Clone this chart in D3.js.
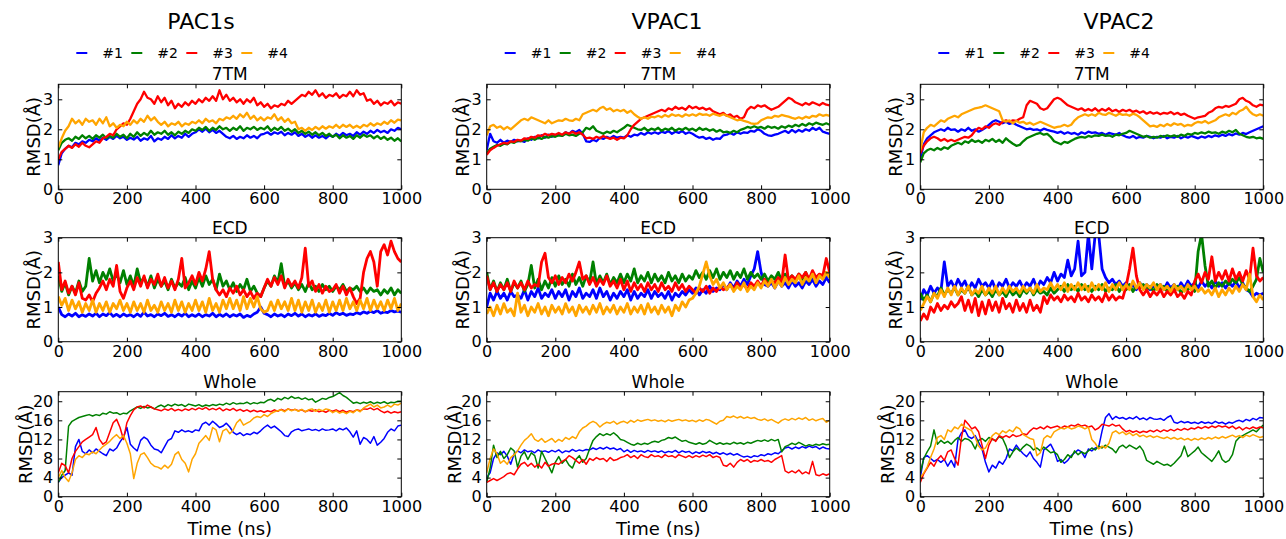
<!DOCTYPE html>
<html>
<head>
<meta charset="utf-8">
<script src="https://cdn.jsdelivr.net/npm/d3@7"></script>
<style>
  body { margin: 0; background: #fff; }
  svg { font-family: "DejaVu Sans", sans-serif; }
</style>
</head>
<body>
<div id="chart"></div>
<script>
var svgWidth = 1286;
var svgHeight = 539;

// labels
var receptors = ["PAC1s", "VPAC1", "VPAC2"];
var regions = ["7TM", "ECD", "Whole"];
var seriesNames = ["#1", "#2", "#3", "#4"];
var seriesColors = ["#0000ff", "#008000", "#ff0000", "#ffa500"];
var xTicks = [0, 200, 400, 600, 800, 1000];
var yTicks7tm = [0, 1, 2, 3];
var yTicksEcd = [0, 1, 2, 3];
var yTicksWhole = [0, 4, 8, 12, 16, 20];

// RMSD (A), one value every 10 ns from 0 to 1000 ns
var pac1s7tm1 = [0.8,1.2,1.35,1.45,1.4,1.55,1.5,1.6,1.55,1.65, 1.6,1.7,1.62,1.72,1.65,1.75,1.68,1.78,1.7,1.75, 1.65,1.72,1.66,1.75,1.62,1.7,1.65,1.78,1.6,1.7, 1.65,1.75,1.68,1.8,1.7,1.78,1.72,1.85,1.75,1.85, 1.9,2.0,1.92,2.02,1.9,1.98,1.88,1.95,1.85,1.75, 1.7,1.78,1.68,1.75,1.7,1.8,1.72,1.78,1.7,1.82, 1.85,1.9,1.82,1.9,1.85,1.92,1.8,1.88,1.82,1.9, 1.78,1.85,1.75,1.82,1.72,1.8,1.72,1.78,1.7,1.8, 1.75,1.85,1.78,1.88,1.8,1.85,1.78,1.9,1.82,1.92, 1.85,1.95,1.88,1.98,1.9,1.95,1.88,2.0,1.95,2.05, 2.0];
var pac1s7tm2 = [1.3,1.55,1.65,1.7,1.62,1.75,1.68,1.8,1.7,1.78, 1.68,1.8,1.72,1.82,1.7,1.78,1.72,1.85,1.75,1.82, 1.7,1.85,1.75,1.9,1.78,1.88,1.8,1.95,1.82,1.9, 1.85,1.95,1.82,1.9,1.8,1.92,1.85,1.95,1.88,2.0, 1.95,2.05,1.98,2.08,1.95,2.05,1.98,2.1,2.0,2.05, 1.95,2.05,1.98,2.1,1.95,2.05,2.0,2.08,1.98,2.05, 2.0,2.1,1.95,2.05,1.98,2.08,1.95,2.02,1.92,2.0, 1.88,1.95,1.85,1.92,1.82,1.9,1.8,1.88,1.78,1.85, 1.75,1.82,1.7,1.8,1.72,1.78,1.68,1.8,1.72,1.82, 1.75,1.8,1.7,1.78,1.68,1.75,1.65,1.72,1.62,1.7, 1.6];
var pac1s7tm3 = [1.0,1.25,1.35,1.45,1.38,1.5,1.42,1.55,1.45,1.4, 1.5,1.6,1.55,1.7,1.75,1.85,1.8,2.0,2.1,2.2, 2.15,2.35,2.6,2.85,3.0,3.25,3.05,3.0,2.85,3.1, 2.9,3.05,2.8,2.95,2.7,2.85,2.75,2.9,2.8,2.95, 2.85,3.0,2.9,3.05,2.95,3.1,2.95,3.3,3.0,3.15, 2.95,3.05,2.9,3.0,2.85,3.0,2.9,3.05,2.8,2.9, 2.75,2.85,2.7,2.8,2.75,2.85,2.8,2.95,2.85,2.95, 3.05,3.15,3.1,3.25,3.15,3.3,3.1,3.2,3.05,3.15, 3.1,3.2,3.05,3.15,3.1,3.25,3.1,3.3,3.15,3.2, 2.95,3.0,2.85,2.95,2.8,2.9,2.85,2.95,2.8,2.9, 2.85];
var pac1s7tm4 = [1.4,1.7,1.95,2.1,2.35,2.2,2.3,2.15,2.35,2.25, 2.3,2.15,2.35,2.2,2.4,2.1,2.2,2.05,2.15,2.1, 2.25,2.15,2.3,2.2,2.35,2.25,2.45,2.3,2.4,2.25, 2.15,2.25,2.1,2.2,2.15,2.25,2.1,2.2,2.15,2.25, 2.2,2.3,2.2,2.35,2.25,2.3,2.2,2.35,2.3,2.4, 2.35,2.45,2.35,2.5,2.4,2.55,2.35,2.45,2.3,2.4, 2.3,2.4,2.35,2.5,2.3,2.4,2.25,2.35,2.2,2.25, 2.0,2.05,1.95,2.05,1.98,2.08,2.0,2.1,2.02,2.1, 2.05,2.15,2.05,2.15,2.08,2.15,2.05,2.12,2.05,2.15, 2.1,2.2,2.12,2.2,2.15,2.25,2.18,2.3,2.22,2.32, 2.3];

var vpac17tm1 = [1.3,1.85,1.6,1.55,1.65,1.55,1.62,1.58,1.65,1.6, 1.62,1.58,1.7,1.65,1.75,1.7,1.8,1.72,1.82,1.75, 1.8,1.85,1.78,1.9,1.85,1.95,1.9,1.98,1.85,1.6, 1.58,1.65,1.6,1.72,1.68,1.75,1.7,1.78,1.72,1.75, 1.72,1.8,1.75,1.82,1.8,1.88,1.82,1.9,1.85,1.9, 1.85,1.92,1.88,1.95,1.85,1.92,1.88,1.95,1.85,1.9, 1.85,1.78,1.72,1.75,1.68,1.72,1.65,1.7,1.68,1.8, 1.82,1.88,1.82,1.9,1.85,1.9,1.88,1.95,1.92,2.0, 1.95,1.85,1.8,1.78,1.82,1.85,1.9,1.95,1.88,1.98, 1.9,1.98,1.92,2.0,1.95,2.05,1.98,2.05,1.92,1.88, 1.85];
var vpac17tm2 = [1.2,1.35,1.42,1.48,1.45,1.52,1.5,1.58,1.55,1.62, 1.6,1.65,1.62,1.7,1.65,1.72,1.68,1.75,1.72,1.78, 1.75,1.8,1.78,1.85,1.8,1.82,1.78,1.85,1.9,2.05, 2.0,2.1,1.95,1.9,1.85,1.92,1.88,1.95,1.9,1.98, 2.05,2.15,2.1,2.05,2.0,1.98,2.05,1.95,2.02,1.98, 2.05,1.95,2.02,1.98,2.05,1.95,2.02,1.98,2.05,1.98, 2.02,1.95,2.05,1.98,2.02,1.95,2.0,1.92,1.98,1.9, 1.92,1.88,1.95,1.9,1.98,2.02,2.08,2.05,2.1,2.05, 2.08,2.02,2.1,2.05,2.08,2.02,2.1,2.05,2.12,2.08, 2.15,2.1,2.18,2.12,2.2,2.15,2.22,2.18,2.15,2.2, 2.15];
var vpac17tm3 = [1.15,1.3,1.38,1.45,1.5,1.55,1.52,1.6,1.58,1.65, 1.62,1.7,1.68,1.75,1.72,1.8,1.78,1.85,1.8,1.85, 1.82,1.88,1.82,1.9,1.85,1.92,1.85,1.9,1.82,1.7, 1.72,1.68,1.75,1.7,1.78,1.72,1.68,1.72,1.65,1.72, 1.7,1.8,2.0,2.15,2.25,2.35,2.4,2.45,2.5,2.55, 2.6,2.65,2.6,2.7,2.65,2.75,2.68,2.72,2.65,2.78, 2.7,2.75,2.68,2.72,2.65,2.7,2.6,2.55,2.5,2.55, 2.45,2.5,2.4,2.45,2.35,2.4,2.65,2.75,2.7,2.8, 2.75,2.8,2.72,2.65,2.7,2.75,2.85,2.95,3.05,3.0, 2.9,2.85,2.8,2.88,2.82,2.9,2.85,2.8,2.88,2.82, 2.8];
var vpac17tm4 = [1.8,2.1,2.15,2.05,2.1,2.0,2.08,2.0,2.1,2.2, 2.3,2.35,2.3,2.4,2.35,2.3,2.25,2.2,2.3,2.2, 2.25,2.3,2.28,2.35,2.3,2.28,2.35,2.3,2.5,2.55, 2.6,2.65,2.6,2.7,2.75,2.65,2.7,2.6,2.65,2.6, 2.65,2.55,2.62,2.5,2.42,2.35,2.4,2.35,2.42,2.4, 2.45,2.4,2.48,2.42,2.5,2.45,2.48,2.42,2.5,2.45, 2.5,2.45,2.52,2.48,2.5,2.45,2.52,2.48,2.45,2.5, 2.45,2.4,2.35,2.3,2.32,2.28,2.25,2.2,2.18,2.2, 2.3,2.35,2.4,2.38,2.45,2.42,2.48,2.45,2.42,2.38, 2.35,2.4,2.35,2.42,2.38,2.45,2.42,2.5,2.45,2.48, 2.45];

var vpac27tm1 = [1.0,1.5,1.7,1.8,1.9,1.95,2.0,1.95,2.05,1.98, 2.0,1.92,2.0,1.95,2.05,1.95,2.0,1.92,1.98,2.05, 2.15,2.25,2.3,2.25,2.2,2.25,2.18,2.22,2.15,2.1, 2.05,2.0,2.02,1.98,2.0,1.95,2.02,1.98,1.95,1.92, 1.88,1.92,1.85,1.9,1.85,1.88,1.82,1.9,1.85,1.92, 1.88,1.9,1.85,1.88,1.82,1.88,1.85,1.82,1.88,1.8, 1.75,1.72,1.78,1.7,1.75,1.72,1.78,1.75,1.7,1.75, 1.72,1.78,1.7,1.75,1.72,1.78,1.7,1.76,1.72,1.78, 1.74,1.7,1.76,1.72,1.78,1.74,1.8,1.76,1.82,1.78, 1.84,1.8,1.86,1.82,1.88,1.84,1.9,1.95,2.0,2.05, 2.1];
var vpac27tm2 = [0.9,1.2,1.3,1.35,1.3,1.38,1.32,1.4,1.35,1.45, 1.5,1.55,1.5,1.6,1.55,1.65,1.58,1.62,1.55,1.65, 1.6,1.68,1.58,1.65,1.55,1.7,1.6,1.52,1.45,1.48, 1.6,1.7,1.75,1.8,1.85,1.88,1.82,1.85,1.75,1.6, 1.55,1.5,1.58,1.55,1.62,1.68,1.72,1.75,1.72,1.78, 1.75,1.8,1.78,1.82,1.78,1.8,1.75,1.82,1.8,1.85, 1.88,1.95,1.9,1.85,1.8,1.75,1.78,1.72,1.75,1.72, 1.78,1.75,1.8,1.76,1.8,1.75,1.82,1.78,1.85,1.82, 1.88,1.85,1.9,1.86,1.92,1.88,1.9,1.85,1.92,1.88, 1.95,1.9,1.98,1.85,1.8,1.75,1.72,1.75,1.7,1.72, 1.68];
var vpac27tm3 = [1.2,1.45,1.6,1.7,1.75,1.7,1.62,1.68,1.6,1.65, 1.6,1.65,1.7,1.75,1.72,1.8,1.95,2.05,2.0,2.1, 2.05,2.15,2.2,2.15,2.25,2.3,2.25,2.3,2.28,2.35, 2.4,2.8,2.95,2.9,2.85,2.7,2.65,2.7,2.85,3.0, 3.05,3.0,2.9,2.8,2.75,2.7,2.65,2.7,2.62,2.68, 2.62,2.7,2.6,2.68,2.62,2.7,2.6,2.65,2.58,2.65, 2.6,2.65,2.58,2.62,2.55,2.6,2.52,2.58,2.52,2.56, 2.5,2.55,2.52,2.58,2.5,2.55,2.48,2.52,2.45,2.4, 2.35,2.4,2.42,2.45,2.55,2.6,2.7,2.75,2.72,2.78, 2.75,2.8,2.85,3.0,3.05,2.95,2.9,2.8,2.75,2.82, 2.8];
var vpac27tm4 = [1.3,1.9,2.05,2.15,2.1,2.2,2.3,2.25,2.35,2.4, 2.45,2.4,2.5,2.55,2.6,2.65,2.7,2.72,2.75,2.8, 2.75,2.7,2.65,2.6,2.3,2.25,2.3,2.2,2.28,2.22, 2.25,2.18,2.22,2.15,2.2,2.25,2.2,2.15,2.1,2.05, 2.08,2.1,2.15,2.1,2.15,2.3,2.4,2.45,2.5,2.45, 2.5,2.45,2.55,2.5,2.48,2.55,2.5,2.45,2.52,2.48, 2.5,2.45,2.52,2.48,2.4,2.3,2.2,2.1,2.12,2.08, 2.15,2.1,2.18,2.12,2.2,2.15,2.18,2.1,2.15,2.12, 2.2,2.25,2.22,2.28,2.2,2.25,2.3,2.4,2.45,2.5, 2.45,2.55,2.5,2.6,2.65,2.75,2.6,2.5,2.45,2.5, 2.45];

var pac1sEcd1 = [1.0,0.78,0.72,0.8,0.74,0.82,0.72,0.78,0.73,0.8, 0.74,0.82,0.72,0.8,0.75,0.84,0.73,0.79,0.72,0.8, 0.74,0.78,0.72,0.8,0.73,0.85,0.74,0.78,0.72,0.8, 0.75,0.82,0.73,0.78,0.72,0.8,0.74,0.82,0.72,0.78, 0.73,0.8,0.72,0.78,0.74,0.82,0.72,0.79,0.73,0.8, 0.72,0.78,0.74,0.8,0.7,0.76,0.72,0.8,0.85,1.0, 0.82,0.78,0.72,0.8,0.74,0.78,0.72,0.8,0.75,0.82, 0.74,0.8,0.72,0.78,0.74,0.8,0.73,0.78,0.75,0.82, 0.76,0.84,0.78,0.82,0.76,0.8,0.78,0.84,0.8,0.86, 0.82,0.88,0.84,0.9,0.82,0.86,0.84,0.9,0.86,0.88, 0.85];
var pac1sEcd2 = [1.9,1.45,1.7,1.35,1.6,1.4,1.75,1.45,1.6,2.4, 1.75,2.05,1.7,2.0,1.8,2.1,1.75,1.95,1.7,2.05, 1.65,1.9,1.6,2.1,1.7,1.85,1.6,1.9,1.55,1.8, 1.6,1.75,1.5,1.8,1.55,1.7,1.6,1.85,1.5,1.75, 1.55,1.85,1.6,1.9,1.65,1.8,1.5,1.95,1.6,1.75, 1.5,1.7,1.45,1.65,1.5,1.8,1.45,1.6,1.4,1.3, 1.55,1.75,1.6,1.9,1.7,2.25,1.6,1.75,1.55,1.7, 1.5,1.65,1.45,1.7,1.5,1.6,1.45,1.65,1.5,1.6, 1.45,1.6,1.5,1.65,1.45,1.55,1.5,1.6,1.45,1.55, 1.4,1.55,1.45,1.5,1.35,1.5,1.4,1.55,1.35,1.5, 1.4];
var pac1sEcd3 = [2.3,1.5,1.75,1.4,1.6,1.35,1.7,1.25,1.2,1.35, 1.15,1.4,1.55,1.75,1.5,1.8,1.6,2.2,1.45,1.25, 1.55,1.75,1.5,1.85,1.6,1.9,1.55,1.8,1.65,1.95, 1.6,1.85,1.55,1.75,1.5,1.8,2.4,1.55,1.7,1.9, 1.65,2.0,1.75,2.1,2.6,1.8,1.5,1.35,1.5,1.3, 1.55,1.4,1.6,1.35,1.5,1.3,1.45,1.25,1.4,1.3, 1.55,1.8,1.6,1.85,1.65,1.9,1.55,1.8,1.6,1.75, 1.55,1.85,2.7,1.6,1.75,1.45,1.65,1.4,1.6,1.45, 1.5,1.65,1.4,1.6,1.35,1.55,1.3,1.1,1.25,2.0, 2.4,2.6,2.3,1.6,2.6,2.8,2.5,2.9,2.6,2.4, 2.3];
var pac1sEcd4 = [1.3,1.05,1.25,0.9,1.2,0.95,1.15,0.85,1.1,0.9, 1.2,0.85,1.1,0.9,1.15,0.85,1.1,0.95,1.2,0.9, 1.1,0.85,1.15,0.9,1.1,0.85,1.2,0.9,1.05,0.85, 1.15,0.9,1.1,0.85,1.2,0.9,1.15,0.85,1.1,0.9, 1.2,0.9,1.15,0.85,1.25,0.9,1.1,0.85,1.2,0.95, 1.25,0.95,1.2,0.9,1.3,0.95,1.25,1.0,1.3,0.95, 0.85,0.9,1.15,0.9,1.2,0.95,1.15,0.9,1.25,0.9, 1.2,0.85,1.15,0.9,1.2,0.85,1.1,0.9,1.2,0.85, 1.15,0.9,1.2,0.9,1.25,0.95,1.15,0.9,1.2,0.95, 1.25,0.9,1.2,0.95,1.15,0.9,1.2,0.95,1.25,0.9, 1.1];

var vpac1Ecd1 = [1.0,1.4,1.2,1.45,1.25,1.4,1.2,1.45,1.3,1.35, 1.25,1.5,1.2,1.45,1.3,1.55,1.25,1.4,1.3,1.5, 1.25,1.45,1.3,1.5,1.2,1.45,1.3,1.55,1.25,1.4, 1.3,1.5,1.25,1.55,1.3,1.45,1.2,1.4,1.25,1.45, 1.3,1.5,1.2,1.45,1.25,1.4,1.3,1.5,1.25,1.45, 1.3,1.4,1.25,1.45,1.2,1.4,1.3,1.45,1.35,1.5, 1.4,1.55,1.35,1.5,1.4,1.6,1.45,1.55,1.5,1.65, 1.5,1.7,1.55,1.75,1.6,1.8,1.65,1.9,2.1,2.6, 2.0,1.65,1.6,1.7,1.55,1.75,1.6,1.7,1.55,1.75, 1.6,1.7,1.55,1.75,1.65,1.8,1.6,1.75,1.65,1.85, 1.7];
var vpac1Ecd2 = [2.0,1.5,1.75,1.45,1.7,1.5,1.8,1.45,1.7,1.55, 1.75,1.45,1.65,2.2,1.55,1.8,1.5,1.75,1.55,1.85, 1.6,1.9,1.65,1.8,1.6,1.95,1.65,1.85,1.6,1.9, 1.7,2.3,1.65,1.9,1.7,1.95,1.65,1.85,1.7,1.95, 1.7,1.95,1.75,2.1,1.7,1.9,1.75,2.0,1.7,1.95, 1.75,1.9,1.7,2.0,1.75,1.9,1.7,1.95,1.75,1.9, 1.8,2.05,1.85,2.0,1.8,2.05,1.85,2.1,1.8,2.0, 1.85,2.05,1.8,2.0,1.85,2.1,1.8,2.0,1.85,1.95, 1.8,1.95,1.75,1.9,1.8,2.0,1.75,1.95,1.8,1.9, 1.75,1.95,1.8,2.0,1.75,1.95,1.8,1.9,1.85,2.0, 1.85];
var vpac1Ecd3 = [1.9,1.5,1.7,1.45,1.65,1.5,1.7,1.45,1.75,1.55, 1.7,1.5,1.75,1.55,1.65,1.6,2.3,2.55,1.85,1.7, 1.9,1.65,1.85,1.7,1.95,1.75,2.0,2.3,1.8,1.9, 1.65,1.85,1.6,1.8,1.65,1.9,1.6,1.75,1.55,1.8, 1.5,1.75,1.45,1.7,1.5,1.65,1.45,1.7,1.5,1.65, 1.45,1.7,1.5,1.6,1.45,1.7,1.5,1.65,1.45,1.6, 1.5,1.4,1.55,1.45,1.6,1.4,1.55,1.45,1.6,1.5, 1.55,1.65,1.5,1.7,1.55,1.65,1.5,1.7,1.6,1.75, 1.6,1.8,1.65,1.75,1.7,1.85,1.7,2.5,1.75,1.9, 1.8,1.95,1.85,2.0,1.8,2.05,1.85,1.95,1.9,2.4, 2.0];
var vpac1Ecd4 = [0.8,1.0,0.75,1.05,0.8,1.1,0.85,0.95,0.75,1.4, 0.85,1.05,0.75,1.0,0.85,1.1,0.8,1.0,0.75,1.05, 0.85,1.0,0.8,1.1,0.85,1.0,0.75,1.05,0.85,1.0, 0.8,1.05,0.85,1.1,0.8,1.0,0.85,1.05,0.8,1.0, 0.85,1.1,0.8,1.0,0.85,1.05,0.8,1.1,0.85,1.0, 0.8,1.05,0.85,1.0,0.75,1.05,0.9,1.15,1.0,1.2, 1.25,1.4,1.6,1.95,2.3,1.9,1.65,1.8,1.55,1.7, 1.5,1.65,1.45,1.6,1.5,1.7,1.45,1.6,1.5,1.7, 1.55,1.75,1.6,1.8,1.55,1.75,1.6,1.85,1.65,1.8, 1.7,1.9,1.65,1.85,1.75,1.95,1.7,1.9,1.8,2.0, 1.85];

var vpac2Ecd1 = [1.2,1.5,1.35,1.6,1.4,1.55,1.45,2.3,1.6,1.75, 1.55,1.8,1.6,1.75,1.5,1.7,1.55,1.8,1.6,1.7, 1.55,1.75,1.5,1.7,1.6,1.8,1.55,1.7,1.6,1.75, 1.55,1.7,1.6,1.8,1.55,1.75,1.65,1.85,1.7,2.0, 1.75,1.95,1.85,2.35,1.9,2.1,2.9,1.9,2.0,3.1, 2.1,3.1,3.1,2.1,1.85,1.7,1.8,1.65,1.75,1.6, 1.7,1.55,1.65,1.5,1.7,1.55,1.65,1.5,1.6,1.55, 1.65,1.5,1.7,1.55,1.65,1.5,1.7,1.55,1.75,1.6, 1.7,1.55,1.75,1.6,1.7,1.55,1.75,1.6,1.7,1.55, 1.7,1.6,1.75,1.55,1.7,1.5,1.45,1.3,1.4,1.35, 1.4];
var vpac2Ecd2 = [1.4,1.2,1.35,1.15,1.4,1.3,1.55,1.35,1.5,1.4, 1.55,1.35,1.5,1.4,1.6,1.35,1.45,1.3,1.5,1.35, 1.45,1.3,1.5,1.35,1.45,1.3,1.5,1.35,1.45,1.3, 1.5,1.4,1.55,1.35,1.5,1.4,1.45,1.35,1.55,1.4, 1.5,1.6,1.45,1.65,1.5,1.6,1.45,1.65,1.5,1.6, 1.45,1.6,1.5,1.65,1.45,1.55,1.5,1.65,1.45,1.6, 1.5,1.65,1.45,1.6,1.55,1.65,1.5,1.6,1.45,1.65, 1.5,1.6,1.45,1.55,1.5,1.6,1.4,1.55,1.5,1.6, 1.45,2.6,3.1,2.2,1.6,1.75,1.55,1.7,1.6,1.75, 1.65,1.8,1.7,1.85,1.65,1.55,1.45,1.6,1.8,2.4, 2.0];
var vpac2Ecd3 = [0.6,0.8,0.65,1.0,0.85,1.1,0.9,1.05,0.95,1.15, 1.0,1.1,1.3,0.9,1.2,0.85,1.25,0.75,1.15,0.8, 1.2,0.9,1.15,0.85,1.25,0.95,1.1,0.85,1.2,0.9, 1.1,0.85,1.2,0.9,1.05,0.85,1.3,1.1,1.35,1.2, 1.3,1.15,1.35,1.2,1.3,1.15,1.4,1.2,1.3,1.15, 1.35,1.2,1.3,1.15,1.4,1.2,1.35,1.2,1.3,1.25, 1.6,2.1,2.7,1.9,1.5,1.35,1.5,1.3,1.45,1.35, 1.5,1.3,1.45,1.35,1.5,1.3,1.4,1.25,1.45,1.35, 1.75,1.95,1.7,2.0,1.8,2.45,1.75,2.0,1.8,2.05, 1.75,2.1,1.8,2.0,1.75,2.05,1.8,2.7,1.9,1.75, 1.85];
var vpac2Ecd4 = [0.9,1.1,1.3,1.15,1.4,1.25,1.5,1.3,1.55,1.35, 1.6,1.35,1.55,1.4,1.6,1.35,1.5,1.4,1.6,1.35, 1.55,1.4,1.6,1.35,1.55,1.4,1.6,1.45,1.55,1.4, 1.6,1.45,1.55,1.4,1.65,1.45,1.55,1.5,1.7,1.5, 1.65,1.5,1.7,1.45,1.65,1.5,1.7,1.5,1.65,1.45, 1.7,1.5,1.65,1.5,1.7,1.45,1.65,1.5,1.7,1.5, 1.65,1.5,1.75,1.55,1.7,1.5,1.65,1.55,1.7,1.5, 1.65,1.5,1.6,1.45,1.65,1.5,1.6,1.45,1.65,1.5, 1.6,1.45,1.55,1.4,1.5,1.35,1.55,1.3,1.5,1.35, 1.55,1.4,1.6,1.45,1.65,1.5,1.95,1.3,1.15,1.35, 1.2];

var pac1sWhole1 = [3.0,4.0,4.5,5.0,4.5,10.5,12.0,9.5,9.0,9.8, 9.2,10.0,9.5,9.0,8.6,10.0,9.6,10.2,11.5,12.5, 14.5,11.0,10.2,9.6,11.8,12.5,12.0,10.8,10.0,9.8, 9.2,10.5,11.8,12.2,13.8,13.5,14.0,13.6,13.8,13.5, 14.0,13.8,15.2,15.6,15.0,15.8,15.2,14.5,14.8,15.4, 14.6,13.5,13.0,13.4,12.8,13.2,13.0,13.5,13.2,13.8, 14.5,15.0,14.4,14.8,14.2,13.6,12.8,12.6,13.6,14.0, 14.2,13.8,14.0,14.2,13.9,14.1,13.8,14.2,13.9,14.0, 14.2,13.8,14.3,14.0,14.4,13.6,12.5,13.8,11.0,12.4, 12.0,11.2,12.6,10.8,11.4,12.2,13.5,14.2,13.8,14.8, 15.0];
var pac1sWhole2 = [3.0,4.5,5.5,14.8,15.8,16.2,16.6,16.8,17.0,17.2, 16.9,17.2,17.0,17.5,17.3,17.8,17.5,17.6,17.2,17.5, 17.4,18.0,18.4,18.8,18.5,18.9,18.6,18.8,18.4,18.9, 19.2,18.8,19.3,19.0,19.4,19.1,19.3,18.9,19.4,19.2, 19.0,19.3,18.9,19.2,19.0,19.3,19.1,19.4,19.2,19.6, 19.3,19.7,19.4,19.6,19.5,19.8,19.4,19.7,19.5,19.8, 19.7,20.2,20.4,20.0,20.6,20.3,20.8,20.5,21.0,20.6, 20.8,20.4,20.7,20.3,20.5,19.8,20.2,20.6,20.4,20.8, 21.0,21.4,21.8,21.2,20.8,20.2,19.6,19.8,19.5,19.8, 19.6,19.9,19.5,19.8,19.6,19.9,19.5,19.8,19.7,20.0, 20.0];
var pac1sWhole3 = [5.0,7.0,6.5,5.0,8.0,9.5,10.5,11.5,12.0,12.5, 13.0,14.5,12.0,11.0,11.5,13.5,15.5,16.2,14.5,12.0, 15.5,17.0,18.2,18.8,19.0,18.6,19.2,18.8,18.4,18.2, 18.0,18.4,18.1,18.5,18.0,18.3,18.0,18.4,18.1,18.5, 18.2,18.6,18.3,18.7,18.2,18.5,18.2,18.6,18.0,18.4, 18.1,18.5,18.0,18.3,17.9,18.2,17.8,18.1,17.8,18.0, 17.7,18.0,17.8,18.2,17.9,18.3,18.0,18.4,18.1,18.3, 18.0,18.2,17.8,18.1,17.9,18.2,17.8,18.0,17.7,18.1, 17.9,18.2,17.8,18.1,17.7,18.0,17.8,18.2,18.0,18.4, 18.3,18.6,18.2,18.5,18.0,17.6,17.9,17.5,17.8,17.6, 17.8];
var pac1sWhole4 = [4.0,5.5,4.0,3.2,5.0,7.8,8.6,8.2,9.0,8.8, 9.4,9.0,9.8,10.5,11.0,11.6,12.4,13.0,12.2,12.8, 11.2,9.0,3.8,7.0,8.8,9.2,8.2,7.0,6.4,6.2, 5.8,6.6,6.0,6.8,8.8,9.4,7.8,7.0,5.2,7.8, 9.0,11.2,12.0,12.8,11.8,14.5,14.0,11.5,13.8,14.2, 13.2,14.0,15.5,16.2,15.0,15.4,15.8,16.5,16.8,16.6, 17.2,16.8,17.4,17.8,18.0,18.2,17.8,18.4,18.0,18.3, 17.9,18.3,17.8,18.2,18.4,17.9,18.3,18.0,18.4,18.2, 17.6,18.0,17.5,17.8,17.4,17.9,17.6,18.2,17.8,18.6, 19.0,19.4,18.8,19.2,18.6,18.8,19.2,18.8,19.4,19.2, 19.6];

var vpac1Whole1 = [4.0,5.0,8.0,9.2,8.8,9.5,8.5,6.8,9.0,9.6, 9.2,9.8,9.4,9.6,9.2,9.8,9.4,9.6,9.3,9.7, 9.4,9.8,9.2,9.6,9.4,9.9,9.5,9.8,9.6,9.9, 9.8,10.2,9.9,10.3,10.0,10.4,10.0,10.2,9.8,10.1, 9.4,9.8,9.3,9.7,9.4,9.6,9.3,9.7,9.4,9.6, 9.3,9.6,9.2,9.5,9.3,9.7,9.2,9.6,9.3,9.5, 9.0,9.4,9.1,9.5,9.2,9.4,9.0,9.3,8.9,9.2, 8.8,9.1,8.7,9.0,8.6,8.3,8.5,8.2,8.6,8.4, 8.8,8.6,9.0,8.8,9.2,9.0,9.6,10.2,10.4,10.0, 10.4,10.1,10.5,10.2,10.6,10.3,10.5,10.0,10.4,10.1, 10.0];
var vpac1Whole2 = [3.0,6.0,10.8,8.2,9.5,8.0,8.8,10.2,9.6,6.2, 8.5,9.4,7.8,9.2,8.6,6.0,9.5,8.0,6.5,5.0, 7.2,8.4,7.0,7.8,6.6,6.0,7.8,8.6,7.2,8.0, 10.0,11.8,12.6,13.2,12.8,13.2,12.9,13.4,12.8,12.0, 11.8,11.4,11.0,10.8,11.2,10.9,11.2,11.0,11.4,11.6, 11.4,11.8,12.0,12.4,12.2,12.5,12.0,11.6,11.8,11.4, 11.2,11.0,11.3,11.0,11.2,11.8,11.4,11.0,11.3,11.0, 11.2,11.0,11.4,11.1,11.3,11.0,11.4,11.2,11.5,11.8, 11.6,11.9,11.6,12.0,11.7,12.0,9.4,10.5,10.8,11.2, 10.9,11.4,11.0,10.6,10.9,10.7,11.0,10.8,11.1,10.9, 11.0];
var vpac1Whole3 = [3.0,3.4,3.8,3.4,3.8,4.2,4.8,5.0,4.6,5.8, 6.8,7.2,6.4,7.0,6.2,6.8,6.0,7.2,6.4,6.8, 7.0,6.8,7.4,7.8,8.6,8.2,7.6,7.0,7.8,6.8, 8.0,7.6,8.2,7.8,8.0,7.4,8.2,7.6,7.8,8.2, 8.4,8.8,8.2,8.6,8.0,8.8,8.4,8.2,8.8,8.4, 8.6,8.2,8.8,8.4,8.6,8.2,8.8,8.5,8.2,8.6, 8.2,8.6,8.3,8.7,8.4,8.8,8.2,8.5,8.2,6.6, 6.4,7.0,6.2,7.2,7.8,7.4,7.8,7.2,7.6,7.4, 7.8,7.4,7.6,7.2,7.8,8.2,8.6,5.4,5.0,5.4, 5.0,5.6,4.8,5.2,4.8,7.4,4.6,4.4,4.8,4.5, 4.8];
var vpac1Whole4 = [5.0,8.0,10.0,9.0,7.0,7.6,6.8,8.2,8.8,9.6, 10.8,11.8,12.4,13.2,12.0,11.6,12.2,11.4,11.8,12.2, 11.4,12.0,11.6,12.4,12.0,12.6,12.2,13.6,14.4,14.8, 15.4,15.8,15.4,14.6,15.2,15.6,15.4,15.8,15.2,15.6, 15.8,15.4,16.0,15.6,16.1,15.8,16.0,16.2,15.9,16.1, 15.8,16.0,15.7,16.1,15.8,16.0,16.2,15.9,16.1,15.8, 16.0,15.7,16.1,15.8,16.2,16.0,15.6,15.2,15.8,16.0, 16.8,16.6,16.9,16.5,16.8,16.4,16.7,16.4,16.6,16.2, 16.0,16.3,15.9,16.2,15.8,15.4,16.0,16.3,16.0,16.4, 16.1,16.5,16.2,16.6,16.0,16.3,15.9,16.2,16.4,15.6, 16.0];

var vpac2Whole1 = [4.0,8.2,8.6,8.0,7.4,7.8,7.2,7.8,6.4,7.6, 6.2,12.0,13.4,14.0,12.6,12.2,12.8,11.4,10.0,7.2, 5.2,6.6,6.0,7.4,6.8,8.0,10.0,9.6,10.8,9.8, 9.0,8.4,9.4,8.0,7.2,6.2,9.8,10.4,11.0,9.6, 7.4,7.8,7.0,7.6,8.6,9.2,9.8,9.4,8.2,10.0, 9.6,10.2,10.4,13.8,16.6,17.4,16.2,16.8,16.4,16.6, 16.2,16.6,16.3,16.8,16.2,16.5,16.1,16.6,16.3,16.2, 16.4,16.0,16.6,17.0,15.6,15.4,15.8,15.5,15.7,15.4, 15.6,15.3,15.7,15.4,15.6,15.3,15.8,15.4,15.6,15.2, 15.6,15.4,15.8,16.0,15.7,16.2,15.9,16.4,16.1,16.6, 16.5];
var vpac2Whole2 = [5.0,8.0,9.4,10.6,14.0,11.0,11.8,11.2,11.6,11.0, 11.8,12.4,11.6,12.2,12.0,11.4,10.0,11.8,12.2,11.6, 12.4,12.0,11.8,12.6,12.2,10.6,8.2,9.4,10.2,9.6, 10.4,11.0,10.6,9.8,10.2,9.6,10.4,9.8,9.2,9.4, 8.8,7.2,7.8,8.8,8.2,9.6,8.8,9.4,9.0,9.6, 10.2,9.8,10.6,10.2,10.8,10.4,10.0,9.2,10.4,10.8, 10.2,10.8,10.4,10.0,10.6,9.6,7.6,7.2,6.8,7.4, 7.0,6.6,6.8,6.4,7.0,7.8,8.6,10.6,8.4,9.0, 9.6,10.4,9.2,8.6,8.0,7.4,8.4,9.6,7.8,7.2, 7.6,8.8,11.6,12.4,12.8,13.2,13.6,14.0,13.6,14.4, 15.0];
var vpac2Whole3 = [3.0,4.8,6.0,7.2,6.4,7.8,8.6,7.6,9.4,9.8, 8.0,6.6,12.4,16.0,15.2,14.2,14.6,13.6,10.8,8.0, 10.8,12.2,11.6,12.8,12.4,12.8,12.4,13.0,12.6,12.8, 13.2,13.0,13.8,14.4,14.2,14.6,14.2,14.8,14.4,14.6, 14.8,14.4,14.8,14.6,15.0,14.8,15.2,14.8,15.0,14.6, 14.8,14.0,14.4,15.2,15.0,14.8,15.2,14.8,15.0,14.2, 13.6,13.9,13.5,13.8,13.4,13.7,13.5,13.9,13.6,14.0, 13.6,14.0,13.7,14.1,13.8,14.2,13.9,14.3,14.0,14.4, 14.2,14.6,14.3,14.7,14.4,14.8,14.5,14.9,14.6,14.8, 14.4,14.8,14.2,14.6,14.0,14.5,14.2,14.6,14.3,14.6, 14.4];
var vpac2Whole4 = [4.0,5.0,6.2,8.2,10.0,12.4,12.8,12.0,14.0,13.6, 14.6,14.2,15.2,14.6,14.2,13.8,12.4,10.6,9.8,10.2, 11.6,12.8,13.4,13.0,13.8,13.4,14.0,13.6,14.6,14.2, 13.0,12.6,12.2,12.0,8.6,9.2,12.2,12.8,12.4,13.6, 14.0,14.4,14.2,14.6,14.2,14.4,14.8,14.6,14.2,14.6, 12.0,11.2,10.0,10.6,10.2,11.2,13.4,13.8,13.2,13.6, 13.0,13.4,12.8,13.2,12.6,12.9,12.5,12.8,12.4,12.7, 12.4,12.2,12.5,12.1,12.4,12.0,12.3,11.9,12.2,11.8, 12.2,11.9,12.3,12.0,12.4,12.1,12.5,12.2,12.6,12.3, 12.6,12.9,12.5,12.8,12.4,12.9,12.6,13.0,12.7,12.4, 12.6];

// lookup table: [row][column] -> four series
var panelSeries = [
  [[pac1s7tm1, pac1s7tm2, pac1s7tm3, pac1s7tm4],
   [vpac17tm1, vpac17tm2, vpac17tm3, vpac17tm4],
   [vpac27tm1, vpac27tm2, vpac27tm3, vpac27tm4]],
  [[pac1sEcd1, pac1sEcd2, pac1sEcd3, pac1sEcd4],
   [vpac1Ecd1, vpac1Ecd2, vpac1Ecd3, vpac1Ecd4],
   [vpac2Ecd1, vpac2Ecd2, vpac2Ecd3, vpac2Ecd4]],
  [[pac1sWhole1, pac1sWhole2, pac1sWhole3, pac1sWhole4],
   [vpac1Whole1, vpac1Whole2, vpac1Whole3, vpac1Whole4],
   [vpac2Whole1, vpac2Whole2, vpac2Whole3, vpac2Whole4]]
];
var yMax = [3.5, 3, 22];
var yTicks = [yTicks7tm, yTicksEcd, yTicksWhole];

// layout
var colLeft = [58.3, 486.7, 920.3];
var colTitleX = [201, 667, 1119];
var rowTop = [84.3, 237.7, 391.7];
var rowHeight = [105, 104, 105];
var rowStroke = [2.3, 2.8, 1.5];
var plotWidth = 343;
var legendOffsets = [18, 73, 128, 183];

var svg = d3.select("#chart")
  .append("svg")
  .attr("width", svgWidth)
  .attr("height", svgHeight);

var defs = svg.append("defs");

receptors.forEach(function(receptor, c) {
  // column title
  svg.append("text")
    .attr("x", colTitleX[c])
    .attr("y", 29)
    .attr("text-anchor", "middle")
    .style("font-size", "22px")
    .text(receptor);

  // legend
  var legend = svg.append("g")
    .attr("transform", `translate(${colLeft[c]}, 53)`);
  seriesNames.forEach(function(name, k) {
    legend.append("line")
      .attr("x1", legendOffsets[k])
      .attr("x2", legendOffsets[k] + 11)
      .attr("y1", 0)
      .attr("y2", 0)
      .attr("stroke", seriesColors[k])
      .attr("stroke-width", 2);
    legend.append("text")
      .attr("x", legendOffsets[k] + 26)
      .attr("y", 5)
      .style("font-size", "14px")
      .text(name);
  });

  regions.forEach(function(region, r) {
    var h = rowHeight[r];
    var xScale = d3.scaleLinear().domain([0, 1000]).range([0, plotWidth]);
    var yScale = d3.scaleLinear().domain([0, yMax[r]]).range([h, 0]);

    var g = svg.append("g")
      .attr("transform", `translate(${colLeft[c]}, ${rowTop[r]})`);

    var clipId = "clip-" + r + "-" + c;
    defs.append("clipPath")
      .attr("id", clipId)
      .append("rect")
      .attr("width", plotWidth)
      .attr("height", h);

    // subplot title
    g.append("text")
      .attr("x", plotWidth / 2)
      .attr("y", -4)
      .attr("text-anchor", "middle")
      .style("font-size", "17px")
      .text(region);

    // series lines
    var series = panelSeries[r][c];
    var lines = g.append("g").attr("clip-path", `url(#${clipId})`);
    series.forEach(function(values, k) {
      var step = 1000 / (values.length - 1);
      var line = d3.line()
        .x((d, i) => xScale(i * step))
        .y(d => yScale(d));
      lines.append("path")
        .datum(values)
        .attr("fill", "none")
        .attr("stroke", seriesColors[k])
        .attr("stroke-width", rowStroke[r])
        .attr("stroke-linejoin", "round")
        .attr("d", line);
    });

    // axes: inward ticks on all four sides
    var fmt = d3.format("d");
    var bottomAxis = d3.axisBottom(xScale).tickValues(xTicks).tickSize(-4).tickPadding(3.5).tickFormat(fmt);
    var topAxis = d3.axisTop(xScale).tickValues(xTicks).tickSize(-4).tickFormat("");
    var leftAxis = d3.axisLeft(yScale).tickValues(yTicks[r]).tickSize(-4).tickPadding(5).tickFormat(fmt);
    var rightAxis = d3.axisRight(yScale).tickValues(yTicks[r]).tickSize(-4).tickFormat("");

    g.append("g")
      .attr("class", "axis")
      .attr("transform", `translate(0, ${h})`)
      .call(bottomAxis);
    g.append("g")
      .attr("class", "axis")
      .call(topAxis);
    g.append("g")
      .attr("class", "axis")
      .call(leftAxis);
    g.append("g")
      .attr("class", "axis")
      .attr("transform", `translate(${plotWidth}, 0)`)
      .call(rightAxis);

    g.selectAll(".axis .domain").remove();
    g.selectAll(".axis line").attr("stroke", "#000");
    g.selectAll(".axis text")
      .attr("fill", "#000")
      .style("font-size", "16px")
      .style("font-family", "DejaVu Sans");

    g.append("rect")
      .attr("width", plotWidth)
      .attr("height", h)
      .attr("fill", "none")
      .attr("stroke", "#000")
      .attr("stroke-width", 1);

    // y label
    var labelX = r === 2 ? -26 : -18;
    g.append("text")
      .attr("transform", `translate(${labelX}, ${h / 2}) rotate(-90)`)
      .attr("text-anchor", "middle")
      .style("font-size", "18px")
      .text("RMSD(Å)");

    if (r === 2) {
      g.append("text")
        .attr("x", plotWidth / 2)
        .attr("y", h + 38)
        .attr("text-anchor", "middle")
        .style("font-size", "18px")
        .text("Time (ns)");
    }
  });
});
</script>
</body>
</html>
